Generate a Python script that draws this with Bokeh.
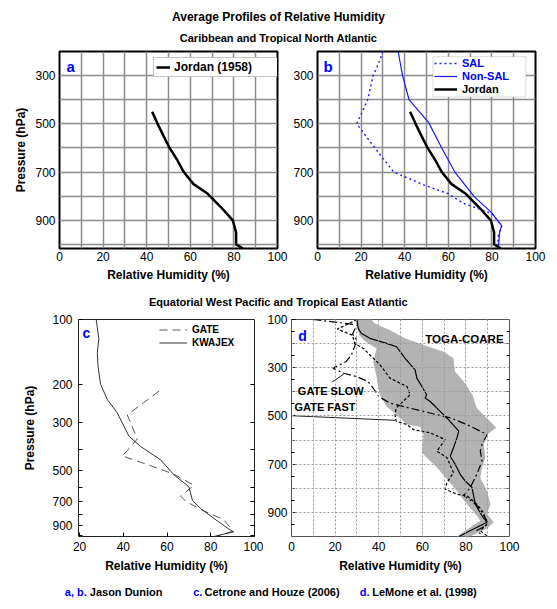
from bokeh.plotting import figure
from bokeh.layouts import column, row
from bokeh.models import (Range1d, FixedTicker, Label, Legend, LegendItem, BoxAnnotation,
                          LinearAxis, LogAxis, BasicTickFormatter)
from bokeh.embed import file_html
from bokeh.resources import INLINE

FONT = "Liberation Sans"
BLUE = "#0000ff"

# ---------------- data ----------------
# Panel a / b : Jordan (1958) mean tropical sounding
jordan_rh = [42.5, 45, 47.7, 50.5, 54, 57, 61.5, 68, 74, 79.5, 81, 81, 84]
jordan_p = [450, 500, 550, 600, 650, 700, 750, 790, 845, 900, 950, 1000, 1016]
# Panel b : SAL and non-SAL soundings
sal_rh = [30, 28, 25.5, 23, 18, 27, 35, 49, 60, 67, 80, 84.5, 83, 82.5]
sal_p = [200, 250, 300, 400, 500, 608, 700, 754, 790, 830, 872, 925, 960, 1015]
nonsal_rh = [37, 39, 42, 51, 57, 63, 72, 79.5, 84.5, 83.5, 83]
nonsal_p = [200, 300, 400, 495, 600, 700, 803, 865, 922, 950, 1015]

# Panel c : GATE and KWAJEX (log pressure)
kwajex_rh = [27.6, 28.8, 28.1, 28.4, 29.6, 32.7, 37.2, 42.6, 47.9, 57.1, 63.2, 70, 71.6, 75.4, 81.5, 89.1, 90.5, 81.5]
kwajex_p = [100, 123, 142, 164, 200, 235, 271, 348, 388, 448, 526, 597, 689, 754, 838, 950, 965, 1015]
gate_rh = [56.3, 41.8, 46.4, 41.8, 39.5, 57.1, 63.2, 72.3, 66.2, 68.5, 75.4, 85.8, 89.1, 90, 82]
gate_p = [215, 277, 358, 406, 429, 495, 522, 588, 659, 696, 761, 847, 927, 961, 1015]

# Panel d : TOGA-COARE mean and range, GATE slow / fast
toga_rh = [30, 30.6, 32.1, 36, 43.6, 48.2, 52.1, 56.7, 57.5, 59.8, 62, 61.3, 63.6, 65.9, 69, 72,
           74.5, 76.7, 75.9, 74.3, 72.8, 75.1, 77.4, 79.7, 82.8, 84.3, 87.4, 89.7, 85.1, 79, 77]
toga_p = [100, 137, 158, 178, 199, 213, 261, 309, 343, 378, 412, 426, 440, 460, 488, 515,
          540, 563, 591, 632, 667, 701, 742, 770, 797, 866, 914, 941, 962, 990, 1000]
env_left_rh = [29, 30, 31, 34, 39, 37.5, 39, 40.5, 43.5, 48, 53, 59, 60.5, 59.8, 66.7, 71.3,
               75.9, 80.5, 85.1, 86.6, 77.4, 76]
env_left_p = [100, 123, 165, 192, 220, 275, 337, 412, 460, 494, 536, 545, 577, 653, 714, 763,
              811, 866, 914, 935, 990, 1000]
env_right_rh = [36.7, 38, 45, 52, 60.5, 69.7, 74.3, 75, 79, 83, 85, 91, 94, 89.7, 88.2, 88.9,
                87.4, 86.6, 89.7, 91.2, 89.7, 92.8, 90, 82]
env_right_p = [100, 116, 144, 178, 206, 234, 261, 316, 357, 412, 467, 522, 549, 577, 618, 673,
               714, 756, 811, 866, 907, 941, 965, 1000]
slow_rh = [10, 30, 28, 30, 27.5, 25, 19, 24, 30, 35, 37.5, 40, 45, 48, 54, 60.5, 66.7, 73, 80.5,
           89.7, 87.4, 86.6, 87.4, 85, 82, 79, 85, 88, 90.5, 85, 88]
slow_p = [100, 122, 160, 185, 247, 275, 302, 323, 337, 357, 385, 419, 446, 453, 467, 481, 495,
          508, 536, 577, 618, 646, 687, 742, 797, 830, 870, 910, 948, 975, 1000]
fast_rh = [30, 21, 28, 29, 33, 40.6, 45.2, 49.8, 53, 54.4, 52, 48, 47.5, 48, 53, 56, 63.6, 70.5,
           66.7, 71.3, 74.3, 71.3, 70.5, 76, 80.5, 85, 88, 89.7, 86.6, 89.7]
fast_p = [100, 140, 165, 200, 220, 288, 343, 364, 378, 412, 433, 467, 495, 522, 536, 557, 570,
          598, 646, 673, 735, 776, 804, 825, 831, 866, 900, 948, 976, 997]
fast_leader_rh = [0, 47.5]
fast_leader_p = [499, 518]
slow_leader_rh = [18.5, 24]
slow_leader_p = [360, 326]

# ticks
rh_ticks = [0, 20, 40, 60, 80, 100]
rh_grid = list(range(0, 101, 10))
p_ticks_ab = [300, 500, 700, 900]
p_grid_ab = list(range(200, 1001, 100))
rh_ticks_c = [20, 40, 60, 80, 100]
p_ticks_c = [100, 200, 300, 500, 700, 900]
p_minor_c = [400, 600, 800, 1000]
p_ticks_d = [100, 300, 500, 700, 900]
p_minor_d = [150, 200, 250, 350, 400, 450, 550, 600, 650, 750, 800, 850, 950]
p_grid_d = list(range(100, 1001, 100))

TITLE = "Average Profiles of Relative Humidity"
SUB1 = "Caribbean and Tropical North Atlantic"
SUB2 = "Equatorial West Pacific and Tropical East Atlantic"
XLABEL = "Relative Humidity (%)"
YLABEL = "Pressure (hPa)"

W = 551


def base_fig(w, h, xr, yr, ml, mr, mt, mb, y_type="linear"):
    p = figure(width=w, height=h, x_range=xr, y_range=yr, y_axis_type=y_type,
               min_border_left=ml, min_border_right=mr, min_border_top=mt, min_border_bottom=mb,
               toolbar_location=None, output_backend="svg", title=None)
    p.background_fill_color = "white"
    p.border_fill_color = "white"
    for ax in list(p.xaxis) + list(p.yaxis):
        ax.axis_line_color = None
        ax.major_tick_in = 0
        ax.major_tick_out = 0
        ax.minor_tick_in = 0
        ax.minor_tick_out = 0
        ax.major_label_text_font = FONT
        ax.major_label_text_font_size = "12px"
        ax.major_label_text_color = "black"
        ax.axis_label_text_font = FONT
        ax.axis_label_text_font_size = "12px"
        ax.axis_label_text_font_style = "bold"
        ax.axis_label_text_color = "black"
    return p


def text_fig(w, h):
    p = figure(width=w, height=h, x_range=Range1d(0, w), y_range=Range1d(0, h),
               x_axis_type=None, y_axis_type=None, toolbar_location=None,
               output_backend="svg", title=None, min_border_left=0, min_border_right=0,
               min_border_top=0, min_border_bottom=0, outline_line_color=None)
    p.grid.visible = False
    return p


def panel_letter(p, letter, x, y, size):
    p.add_layout(Label(x=x, y=y, x_units="screen", y_units="screen", text=letter,
                       text_font=FONT, text_font_size=size, text_font_style="bold",
                       text_color=BLUE, text_baseline="alphabetic"))


def ab_style(p, ylabel):
    p.xaxis.ticker = FixedTicker(ticks=rh_ticks)
    p.yaxis.ticker = FixedTicker(ticks=p_ticks_ab)
    p.xgrid.ticker = FixedTicker(ticks=rh_grid)
    p.ygrid.ticker = FixedTicker(ticks=p_grid_ab)
    p.grid.grid_line_color = "#8c8c8c"
    p.grid.grid_line_width = 1.5
    p.xaxis.major_label_standoff = 3
    p.yaxis.major_label_standoff = 4
    p.xaxis.axis_label = XLABEL
    p.xaxis.axis_label_standoff = 4
    if ylabel:
        p.yaxis.axis_label = YLABEL
        p.yaxis.axis_label_standoff = 4
    p.outline_line_color = "black"
    p.outline_line_width = 2


# ---------------- header ----------------
head = text_fig(W, 45)
head.add_layout(Label(x=278, y=29, x_units="screen", y_units="screen", text=TITLE,
                      text_font=FONT, text_font_size="12px", text_font_style="bold",
                      text_align="center", text_baseline="middle", text_color="black"))
head.add_layout(Label(x=278, y=8, x_units="screen", y_units="screen", text=SUB1,
                      text_font=FONT, text_font_size="11px", text_font_style="bold",
                      text_align="center", text_baseline="middle", text_color="black"))

# ---------------- panel a ----------------
pa = base_fig(288, 248, Range1d(0, 100), Range1d(1017, 200), 59, 11, 6, 45)
ab_style(pa, True)
ra = pa.line(jordan_rh, jordan_p, line_color="black", line_width=2.5)
leg_a = Legend(items=[LegendItem(label="Jordan (1958)", renderers=[ra])], location=(94, 171),
               padding=2, margin=0, spacing=0, label_height=14, glyph_height=14, glyph_width=14,
               label_width=101, label_standoff=4, border_line_color="#8a8a8a",
               background_fill_color="white", background_fill_alpha=1.0,
               label_text_font=FONT, label_text_font_size="12px", label_text_font_style="bold",
               label_text_color="black")
pa.add_layout(leg_a)
panel_letter(pa, "a", 7, 182, "15px")

# ---------------- panel b ----------------
pb = base_fig(W - 288, 248, Range1d(0, 100), Range1d(1017, 200), 29, W - 288 - 29 - 218, 6, 45)
ab_style(pb, False)
rs = pb.line(sal_rh, sal_p, line_color="#1a1aff", line_width=1.4, line_dash="2 3")
rn = pb.line(nonsal_rh, nonsal_p, line_color="#1a1aff", line_width=1.2)
rj = pb.line(jordan_rh, jordan_p, line_color="black", line_width=2.5)
pb.add_layout(BoxAnnotation(left=115.5, right=208.3, top=191.8, bottom=151.5,
                            left_units="screen", right_units="screen", top_units="screen",
                            bottom_units="screen", fill_color="white", fill_alpha=1.0,
                            line_color="#8a8a8a", line_width=1))
for lab, rend, col, ybot in [("SAL", rs, BLUE, 178.3), ("Non-SAL", rn, BLUE, 165.3),
                             ("Jordan", rj, "black", 152.3)]:
    pb.add_layout(Legend(items=[LegendItem(label=lab, renderers=[rend])], location=(117, ybot),
                         padding=0, margin=0, spacing=0, label_height=14, glyph_height=14,
                         glyph_width=23, label_standoff=5, border_line_color=None,
                         background_fill_alpha=0, label_text_font=FONT,
                         label_text_font_size="11px", label_text_font_style="bold",
                         label_text_color=col))
panel_letter(pb, "b", 6, 182, "15px")

# ---------------- header 2 ----------------
head2 = text_fig(W, 18)
head2.add_layout(Label(x=278, y=10, x_units="screen", y_units="screen", text=SUB2,
                       text_font=FONT, text_font_size="11px", text_font_style="bold",
                       text_align="center", text_baseline="middle", text_color="black"))

# ---------------- panel c ----------------
pc = base_fig(263, 269, Range1d(19.5, 100), Range1d(1015, 100), 78, 9, 8, 44, y_type="log")
pc.grid.visible = False
pc.xaxis.ticker = FixedTicker(ticks=rh_ticks_c)
pc.yaxis.ticker = FixedTicker(ticks=p_ticks_c, minor_ticks=p_minor_c)
pc.yaxis.formatter = BasicTickFormatter()
pc.yaxis.major_tick_in = 4
pc.yaxis.minor_tick_in = 4
pc.xaxis.major_tick_in = 4
pc.xaxis.major_label_standoff = 5
pc.yaxis.major_label_standoff = 6
pc.xaxis.axis_label = XLABEL
pc.xaxis.axis_label_standoff = 5
pc.yaxis.axis_label = YLABEL
pc.yaxis.axis_label_standoff = 12
pc.outline_line_color = "#222222"
pc.outline_line_width = 1
rax_c = LogAxis(ticker=FixedTicker(ticks=[], minor_ticks=p_ticks_c[1:] + p_minor_c),
                axis_line_color=None, major_tick_in=0, major_tick_out=0,
                minor_tick_in=4, minor_tick_out=0, major_label_standoff=0)
pc.add_layout(rax_c, "right")
rg = pc.line(gate_rh, gate_p, line_color="#555555", line_width=1, line_dash="8 5")
rk = pc.line(kwajex_rh, kwajex_p, line_color="#333333", line_width=1)
leg_c = Legend(items=[LegendItem(label="GATE", renderers=[rg]),
                      LegendItem(label="KWAJEX", renderers=[rk])],
               location=(81, 187.5), padding=0, margin=0, spacing=0, label_height=13,
               glyph_height=13, glyph_width=28, label_standoff=5, border_line_color=None,
               background_fill_alpha=0, label_text_font=FONT, label_text_font_size="10px",
               label_text_font_style="bold", label_text_color="black")
pc.add_layout(leg_c)
panel_letter(pc, "c", 4, 204, "14px")

# ---------------- panel d ----------------
pd_ = base_fig(W - 263, 269, Range1d(0, 100), Range1d(1000, 100), 28, W - 263 - 28 - 218, 8, 44)
pd_.xaxis.ticker = FixedTicker(ticks=rh_ticks)
pd_.yaxis.ticker = FixedTicker(ticks=p_ticks_d, minor_ticks=p_minor_d)
pd_.yaxis.major_tick_in = 4
pd_.yaxis.minor_tick_in = 3
pd_.xgrid.ticker = FixedTicker(ticks=rh_grid)
pd_.ygrid.ticker = FixedTicker(ticks=p_grid_d)
pd_.grid.grid_line_color = "#9a9a9a"
pd_.grid.grid_line_dash = "2 2"
pd_.grid.grid_line_width = 1
pd_.grid.level = "guide"
pd_.xaxis.major_label_standoff = 5
pd_.yaxis.major_label_standoff = 4
pd_.xaxis.axis_label = XLABEL
pd_.xaxis.axis_label_standoff = 5
pd_.outline_line_color = "#555555"
pd_.outline_line_width = 1
rax_d = LinearAxis(ticker=FixedTicker(ticks=[], minor_ticks=p_minor_d),
                   axis_line_color=None, major_tick_in=0, major_tick_out=0,
                   minor_tick_in=3, minor_tick_out=0, major_label_standoff=0)
pd_.add_layout(rax_d, "right")
pd_.patch(env_left_rh + env_right_rh[::-1], env_left_p + env_right_p[::-1],
          fill_color="#b3b3b3", line_color=None)
pd_.line(fast_rh, fast_p, line_color="black", line_width=1.2, line_dash="3 2")
pd_.line(slow_rh, slow_p, line_color="black", line_width=1.2, line_dash="8 3 2 3")
pd_.line(toga_rh, toga_p, line_color="black", line_width=1.2)
pd_.line(fast_leader_rh, fast_leader_p, line_color="#222222", line_width=1)
pd_.line(slow_leader_rh, slow_leader_p, line_color="#222222", line_width=1)
for txt, x, y, al, fs in [("TOGA-COARE", 79.3, 181, "center", "11.5px"),
                          ("GATE SLOW", 2.9, 395, "left", "11px"),
                          ("GATE FAST", 1.4, 461, "left", "11px")]:
    pd_.add_layout(Label(x=x, y=y, text=txt, text_font=FONT, text_font_size=fs,
                         text_font_style="bold", text_align=al, text_baseline="middle",
                         text_color="black"))
panel_letter(pd_, "d", 6.7, 201, "14px")

# ---------------- footer ----------------
foot = text_fig(W, 20)
for txt, x, col in [("a, b.", 64.3, BLUE), ("Jason Dunion", 89.3, "black"),
                    ("c.", 192.7, BLUE), ("Cetrone and Houze (2006)", 204, "black"),
                    ("d.", 359.3, BLUE), ("LeMone et al. (1998)", 371.7, "black")]:
    foot.add_layout(Label(x=x, y=8.3, x_units="screen", y_units="screen", text=txt,
                          text_font=FONT, text_font_size="11px", text_font_style="bold",
                          text_align="left", text_baseline="middle", text_color=col))

layout = column(head, row(pa, pb), head2, row(pc, pd_), foot)
open("out.html", "w").write(file_html(layout, INLINE))
